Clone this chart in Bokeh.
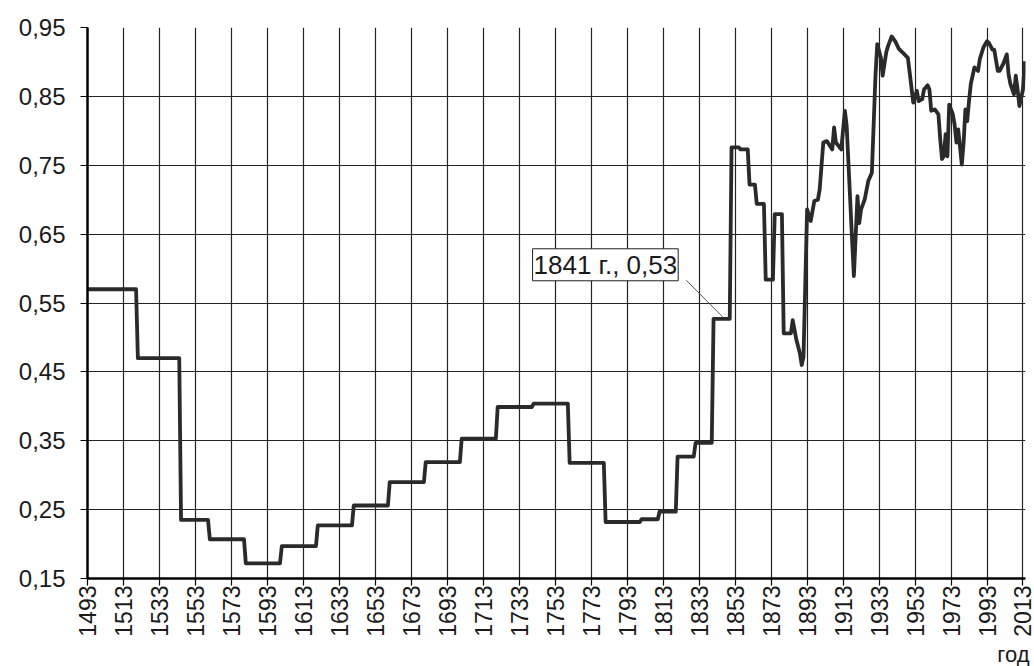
import math
from bokeh.plotting import figure
from bokeh.models import (ColumnDataSource, FixedTicker, CustomJSTickFormatter,
                          Label, Range1d, Title)
from bokeh.embed import file_html
from bokeh.resources import INLINE

# ---------------- data ----------------
years = [1493, 1520, 1521, 1544, 1545, 1560, 1561, 1580, 1581, 1600, 1601,
         1620, 1621, 1640, 1641, 1660, 1661, 1680, 1681, 1700, 1701, 1720,
         1721, 1740, 1741, 1760, 1761, 1780, 1781, 1800, 1801, 1810, 1811,
         1820, 1821, 1830, 1831, 1840, 1841, 1850, 1851, 1855, 1856, 1860,
         1861, 1864, 1865, 1869, 1870, 1874, 1875, 1879, 1880, 1884, 1885,
         1887, 1889, 1890, 1891, 1893, 1895, 1897, 1899, 1900, 1902, 1904,
         1907, 1908, 1909, 1912, 1914, 1915, 1918, 1919, 1921, 1922, 1923,
         1925, 1927, 1929, 1931, 1932, 1934, 1935, 1937, 1938, 1940, 1942,
         1944, 1946, 1949, 1950, 1952, 1954, 1955, 1957, 1958, 1960, 1961,
         1962, 1964, 1966, 1967, 1968, 1969, 1970, 1971, 1972, 1974, 1975,
         1976, 1977, 1979, 1980, 1981, 1982, 1983, 1984, 1986, 1988, 1989,
         1991, 1993, 1994, 1996, 1997, 1999, 2000, 2002, 2004, 2005, 2006,
         2008, 2009, 2010, 2011, 2013, 2014]
values = [0.570, 0.570, 0.470, 0.470, 0.235, 0.235, 0.207, 0.207, 0.172, 0.172, 0.197,
          0.197, 0.227, 0.227, 0.256, 0.256, 0.290, 0.290, 0.319, 0.319, 0.353, 0.353,
          0.399, 0.399, 0.404, 0.404, 0.318, 0.318, 0.232, 0.232, 0.236, 0.236, 0.247,
          0.247, 0.327, 0.327, 0.347, 0.347, 0.527, 0.527, 0.776, 0.776, 0.773, 0.773,
          0.722, 0.722, 0.694, 0.694, 0.584, 0.584, 0.679, 0.679, 0.506, 0.506, 0.525,
          0.497, 0.477, 0.460, 0.472, 0.686, 0.669, 0.698, 0.700, 0.715, 0.783, 0.785,
          0.773, 0.805, 0.783, 0.773, 0.829, 0.807, 0.642, 0.589, 0.705, 0.666, 0.686,
          0.700, 0.727, 0.739, 0.880, 0.926, 0.906, 0.880, 0.914, 0.923, 0.937, 0.930,
          0.919, 0.914, 0.906, 0.885, 0.841, 0.858, 0.843, 0.846, 0.860, 0.866, 0.860,
          0.829, 0.831, 0.824, 0.788, 0.759, 0.763, 0.795, 0.763, 0.838, 0.824, 0.809,
          0.783, 0.802, 0.751, 0.783, 0.831, 0.814, 0.843, 0.868, 0.892, 0.887, 0.904,
          0.921, 0.930, 0.928, 0.918, 0.918, 0.887, 0.887, 0.897, 0.911, 0.882, 0.868,
          0.853, 0.880, 0.860, 0.836, 0.860, 0.901]

x_ticks = [1493, 1513, 1533, 1553, 1573, 1593, 1613, 1633, 1653, 1673, 1693,
           1713, 1733, 1753, 1773, 1793, 1813, 1833, 1853, 1873, 1893, 1913,
           1933, 1953, 1973, 1993, 2013]
y_ticks = [0.15, 0.25, 0.35, 0.45, 0.55, 0.65, 0.75, 0.85, 0.95]

ann_year = 1841
ann_value = 0.53
ann_text = "1841 г., 0,53"
x_title = "год"

FONT = "Liberation Sans"
TXT = "#1a1a1a"

# ---------------- figure ----------------
p = figure(width=1034, height=666, output_backend="svg", toolbar_location=None,
           x_range=Range1d(1493, 2014.4), y_range=Range1d(y_ticks[0], y_ticks[-1]),
           min_border_left=87, min_border_right=9, min_border_top=27,
           min_border_bottom=88)
p.outline_line_color = None
p.background_fill_color = "white"
p.border_fill_color = "white"

src = ColumnDataSource(dict(year=years, value=values))
p.line("year", "value", source=src, line_width=3.8, line_color="#2a2a2a",
       line_join="round")

# grids
p.xgrid.ticker = FixedTicker(ticks=x_ticks)
p.ygrid.ticker = FixedTicker(ticks=y_ticks)
for g in (p.xgrid, p.ygrid):
    g.grid_line_color = "#222222"
    g.grid_line_width = 1.2

# axes
xa = p.xaxis[0]
ya = p.yaxis[0]
xa.ticker = FixedTicker(ticks=x_ticks)
ya.ticker = FixedTicker(ticks=y_ticks)
ya.formatter = CustomJSTickFormatter(code="return tick.toFixed(2).replace('.', ',')")
xa.major_label_orientation = math.pi / 2
for ax in (xa, ya):
    ax.axis_line_color = "black"
    ax.axis_line_width = 2.5
    ax.major_tick_line_color = "black"
    ax.major_tick_line_width = 1.2
    ax.major_tick_in = 0
    ax.major_tick_out = 7
    ax.minor_tick_line_color = None
    ax.major_label_text_font = FONT
    ax.major_label_text_color = TXT
ya.major_label_text_font_size = "24px"
xa.major_label_text_font_size = "23px"
xa.major_label_standoff = 0
ya.major_label_standoff = 15

# annotation with leader line
p.segment(x0=[ann_year - 15.2], y0=[ann_value + 0.053], x1=[ann_year + 5],
          y1=[ann_value], line_color="#555555", line_width=1)
lab = Label(x=ann_year, y=ann_value, x_offset=-181, y_offset=36, text=ann_text,
            text_font=FONT, text_font_size="26px", text_color=TXT,
            text_align="left", text_baseline="bottom",
            background_fill_color="white", border_line_color="#222222",
            border_line_width=1, padding=1)
p.add_layout(lab)

# x-axis title (below the tick labels, right aligned)
xt = Title(text=x_title, align="right", offset=-4, standoff=0,
           text_font=FONT, text_font_size="22px", text_font_style="normal",
           text_color=TXT)
p.add_layout(xt, "below")

open("out.html", "w").write(file_html(p, INLINE))
